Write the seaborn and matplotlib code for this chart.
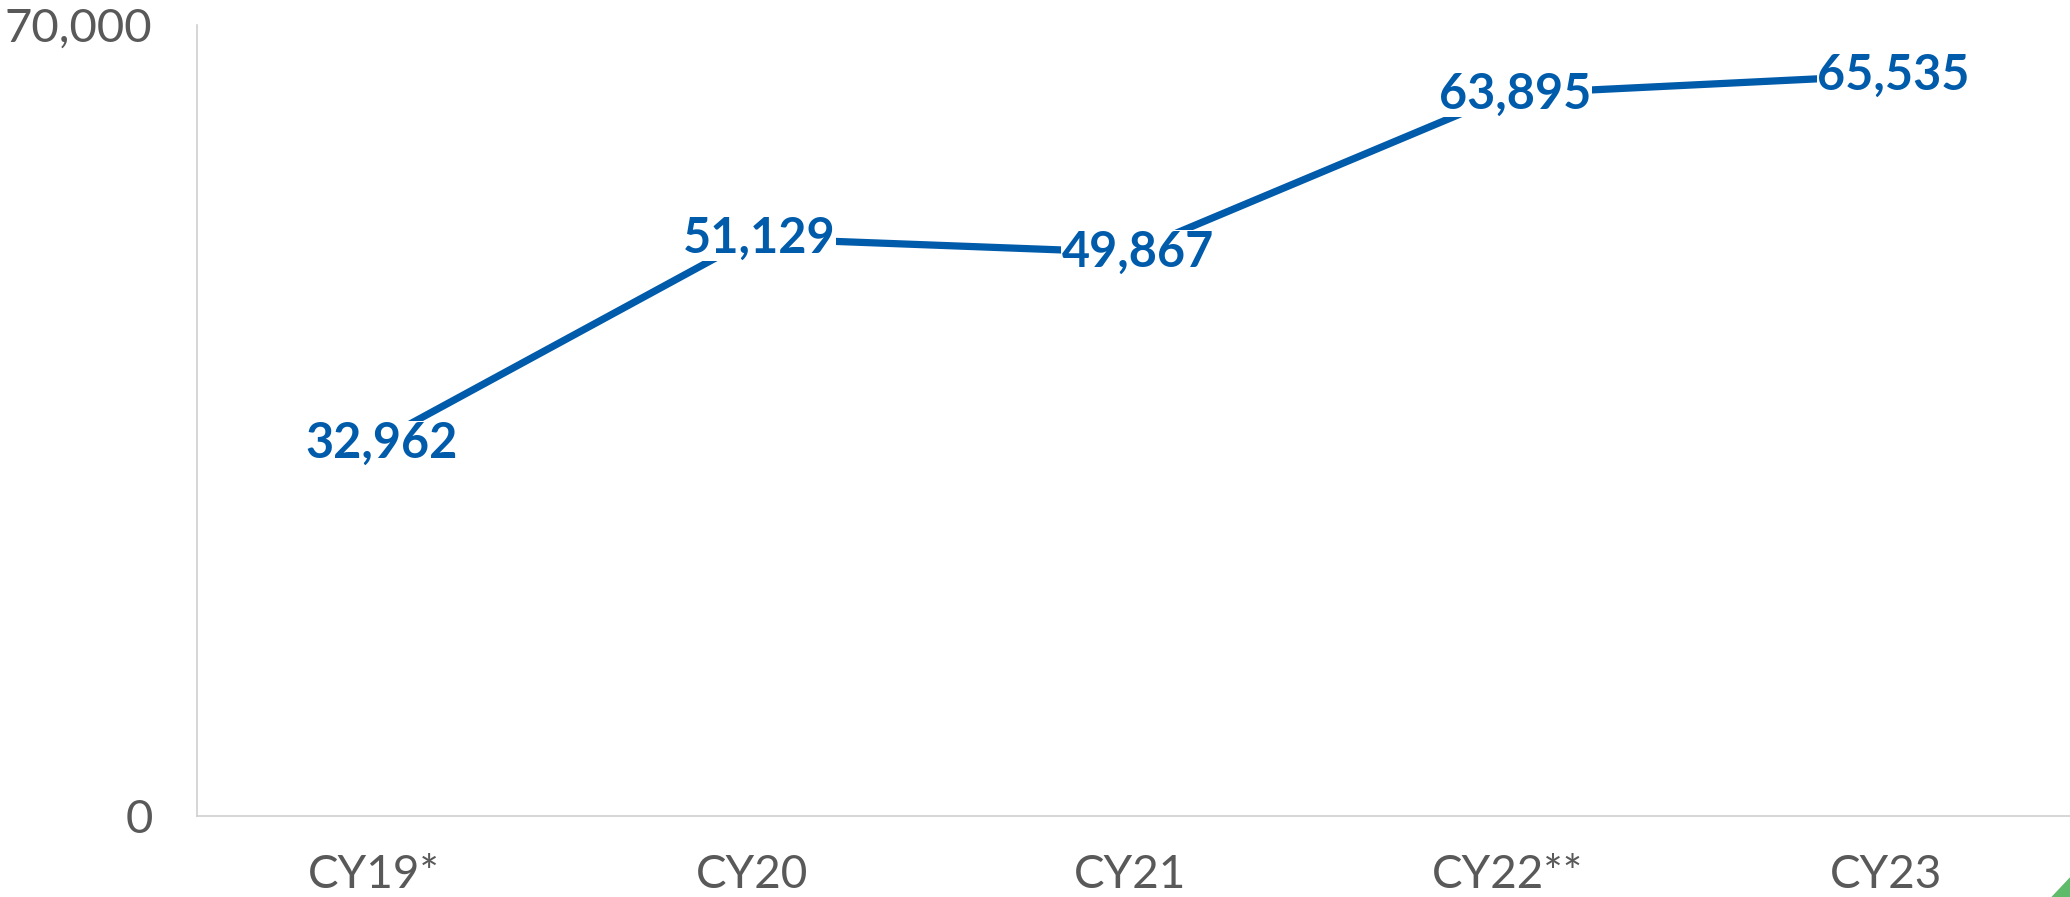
import seaborn as sns
import pandas as pd
import matplotlib.pyplot as plt
from matplotlib.patches import Polygon

years = ["CY19*", "CY20", "CY21", "CY22**", "CY23"]
values = [32962, 51129, 49867, 63895, 65535]

BLUE = "#005BAA"
GREY = "#595959"

sns.set_style("white")
plt.rcParams['font.family'] = ['Lato', 'DejaVu Sans']

df = pd.DataFrame({"year": years, "value": values})
df["pos"] = range(len(df))

fig = plt.figure(figsize=(20.7, 8.97), dpi=100)
ax = fig.add_axes([0.0952, 0.0903, 0.9048, 0.8818])

sns.lineplot(x="pos", y="value", data=df, ax=ax, color=BLUE, linewidth=5.2)

# data labels with white backing so the line breaks around them
for x, v in zip(df["pos"], df["value"]):
    ax.text(x + 0.02, v, f"{v:,}", ha="center", va="center", fontsize=35,
            fontweight="bold", color=BLUE, zorder=5,
            bbox=dict(facecolor="white", edgecolor="none", pad=0.5))

ax.set_xlim(-0.468, 4.487)
ax.set_ylim(0, 70000)
ax.set_xticks(df["pos"])
ax.set_xticklabels(years)
ax.set_yticks([0, 70000])
ax.set_yticklabels(["0", "70,000"])
ax.set_xlabel("")
ax.set_ylabel("")

ax.tick_params(axis="x", length=0, pad=27, labelsize=33, labelcolor=GREY)
ax.tick_params(axis="y", direction="in", length=10, width=1, color="#BFBFBF",
               pad=32, labelsize=34, labelcolor=GREY)

for side in ["top", "right"]:
    ax.spines[side].set_visible(False)
for side in ["left", "bottom"]:
    ax.spines[side].set_color("#D0D0D0")
    ax.spines[side].set_linewidth(1.2)

# small green corner mark
fig.patches.append(Polygon([[1.0, 0.0], [1.0, 0.022], [0.991, 0.0]],
                           closed=True, transform=fig.transFigure,
                           facecolor="#5DBB6A", edgecolor="none"))

fig.savefig("out.png", dpi=100, facecolor="white")
